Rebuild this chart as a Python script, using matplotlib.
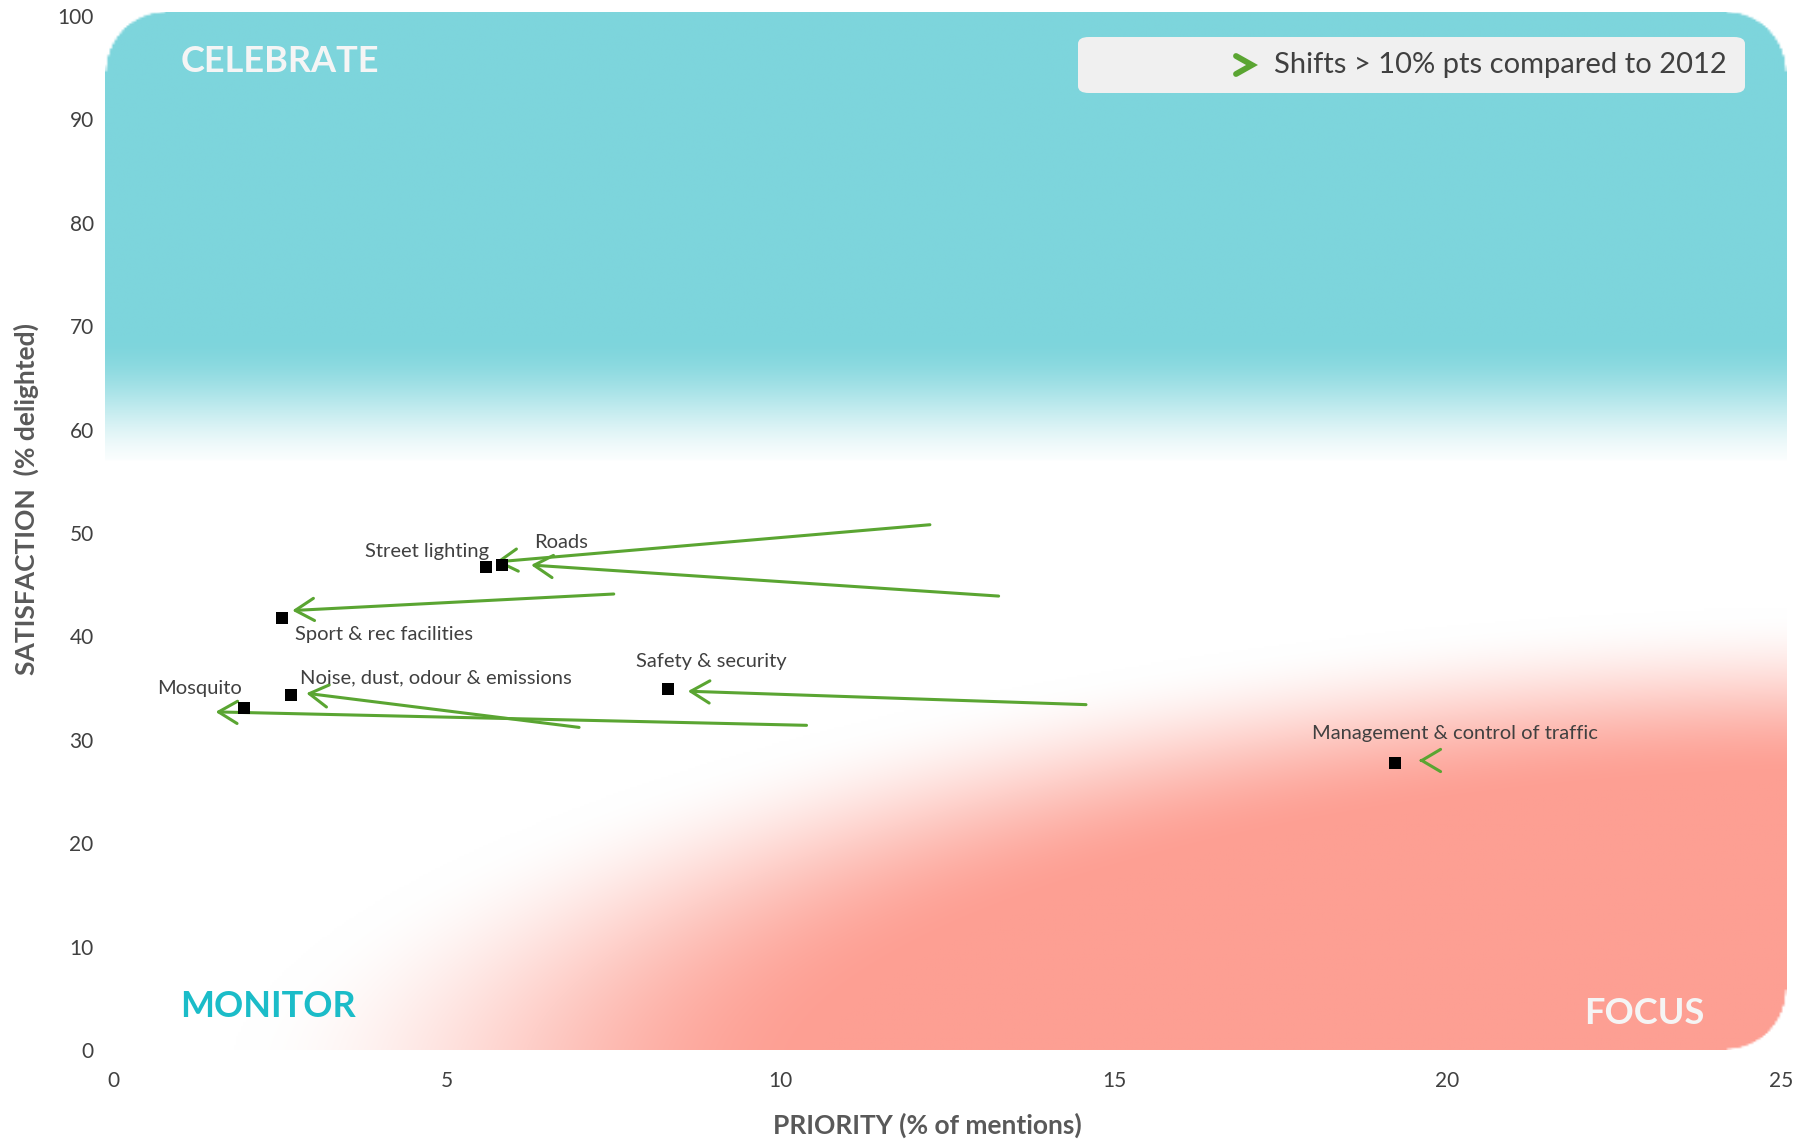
import numpy as np
import matplotlib
matplotlib.use("Agg")
import matplotlib.pyplot as plt
from matplotlib.patches import FancyBboxPatch
from matplotlib.lines import Line2D

plt.rcParams['font.family'] = ['Lato', 'DejaVu Sans']

# current (latest) positions
services = ['Street lighting', 'Roads', 'Sport & rec facilities', 'Mosquito',
            'Noise, dust, odour & emissions', 'Safety & security',
            'Management & control of traffic']
priority = [5.59, 5.83, 2.53, 1.96, 2.66, 8.32, 19.22]
satisfaction = [46.7, 46.9, 41.8, 33.1, 34.3, 34.9, 27.8]

# arrows: start (2012 position) -> arrow tip (near current point)
arrow_x0 = [12.24, 13.27, 7.50, 10.39, 6.98, 14.58, 19.62]
arrow_y0 = [50.8, 43.9, 44.1, 31.4, 31.2, 33.4, 28.0]
arrow_x1 = [5.73, 6.26, 2.68, 1.53, 2.89, 8.61, 19.57]
arrow_y1 = [47.2, 46.9, 42.5, 32.7, 34.5, 34.7, 28.0]

# label anchor (left, middle) for each service
label_x = [3.77, 6.31, 2.72, 0.65, 2.80, 7.84, 17.97]
label_y = [48.2, 49.1, 40.2, 35.0, 36.0, 37.6, 30.6]

xticks = [0, 5, 10, 15, 20, 25]
yticks = [0, 10, 20, 30, 40, 50, 60, 70, 80, 90, 100]

TEAL = np.array([125, 213, 220]) / 255
SALMON = np.array([253, 159, 147]) / 255
GREEN = '#5aa532'

W, H = 1798, 1141
fig = plt.figure(figsize=(W / 100, H / 100), dpi=100)

xmin, xmax, ymin, ymax = -0.13, 25.08, 0, 100.4
px0, px25 = 113.5, 1781.0
sx = (px25 - px0) / 25
left = px0 + xmin * sx
right = px0 + xmax * sx
py100, py0 = 16.0, 1050.0
sy = (py0 - py100) / 100
top = py100 - (ymax - 100) * sy
ax = fig.add_axes([left / W, 1 - py0 / H, (right - left) / W, (py0 - top) / H])
ax.set_xlim(xmin, xmax)
ax.set_ylim(ymin, ymax)

# background gradient with rounded corners
nx, ny = 700, 500
gx = np.linspace(xmin, xmax, nx)
gy = np.linspace(ymin, ymax, ny)
X, Y = np.meshgrid(gx, gy)
u = X / 25
v = Y / 100

def smooth(a, b, t):
    s = np.clip((t - a) / (b - a), 0, 1)
    return s * s * (3 - 2 * s)

teal_w = smooth(0.555, 0.69, v)
teal_w[v < 0.57] = 0
h = (1.02 - u) / 1.0
vv = (v + 0.02) / 0.47
d = (np.abs(h) ** 1.8 + np.abs(vv) ** 1.8) ** (1 / 1.8)
sal_w = 1 - smooth(0.6, 0.95, d)
sal_w = sal_w * (1 - teal_w)

img = np.ones((ny, nx, 4))
for c in range(3):
    col = 1 - teal_w * (1 - TEAL[c])
    col = col - sal_w * (1 - SALMON[c])
    img[..., c] = col

# rounded rectangle mask in pixel space
PX = (X - xmin) * sx
PY = (ymax - Y) * sy
wpx, hpx = (xmax - xmin) * sx, (ymax - ymin) * sy
R = 60.0
alpha = np.ones_like(PX)
corners = [(R, R), (wpx - R, R), (wpx - R, hpx - R)]
for cx, cy in corners:
    inx = (PX < cx) if cx == R else (PX > cx)
    iny = (PY < cy) if cy == R else (PY > cy)
    dist = np.hypot(PX - cx, PY - cy)
    m = inx & iny
    alpha[m] = np.clip(R - dist[m] + 0.5, 0, 1)
img[..., 3] = alpha
ax.imshow(img, extent=(xmin, xmax, ymin, ymax), origin='lower',
          aspect='auto', interpolation='bilinear', zorder=0)

# arrows
for x0, y0, x1, y1 in zip(arrow_x0, arrow_y0, arrow_x1, arrow_y1):
    ax.annotate('', xy=(x1, y1), xytext=(x0, y0),
                arrowprops=dict(arrowstyle='->,head_length=1.35,head_width=0.8',
                                color=GREEN, lw=2.2, shrinkA=0, shrinkB=0),
                zorder=3)

ax.scatter(priority, satisfaction, marker='s', s=75, color='black', zorder=4,
           linewidths=0)

for name, lx, ly in zip(services, label_x, label_y):
    ax.text(lx, ly, name, fontsize=14.5, color='#404040', ha='left', va='center',
            zorder=5)

# quadrant labels
ax.text(1.0, 95.6, 'CELEBRATE', fontsize=26, fontweight='bold', color='#f5f5f5',
        ha='left', va='center')
ax.text(1.0, 4.2, 'MONITOR', fontsize=26, fontweight='bold', color='#1bbcc8',
        ha='left', va='center')
ax.text(23.86, 3.5, 'FOCUS', fontsize=26, fontweight='bold', color='#f5f5f5',
        ha='right', va='center')

# legend box
box = FancyBboxPatch((1078 / W, 1 - 93 / H), (1745 - 1078) / W, (93 - 37) / H,
                     boxstyle='round,pad=0,rounding_size=0.006',
                     transform=fig.transFigure, facecolor='#f0f0f0',
                     edgecolor='none', zorder=6)
fig.patches.append(box)
chev = Line2D([1236 / W, 1252 / W, 1236 / W],
              [1 - 56 / H, 1 - 65 / H, 1 - 74 / H],
              transform=fig.transFigure, color=GREEN, lw=4.2,
              solid_capstyle='round', solid_joinstyle='miter', zorder=7)
fig.lines.append(chev)
fig.text(1727 / W, 1 - 65 / H, 'Shifts > 10% pts compared to 2012', fontsize=21,
         color='#404040', ha='right', va='center', zorder=7)

ax.set_xticks(xticks)
ax.set_yticks(yticks)
ax.tick_params(length=0, labelsize=15, labelcolor='#404040')
ax.tick_params(axis='y', pad=8)
ax.tick_params(axis='x', pad=15)
for s in ax.spines.values():
    s.set_visible(False)

fig.text(927 / W, 1 - 1125 / H, 'PRIORITY (% of mentions)', fontsize=19,
         fontweight='bold', color='#595959', ha='center', va='center')
fig.text(26 / W, 1 - 499 / H, 'SATISFACTION  (% delighted)', fontsize=19,
         fontweight='bold', color='#595959', ha='center', va='center',
         rotation=90)

fig.savefig('out.png', dpi=100, facecolor='white')
